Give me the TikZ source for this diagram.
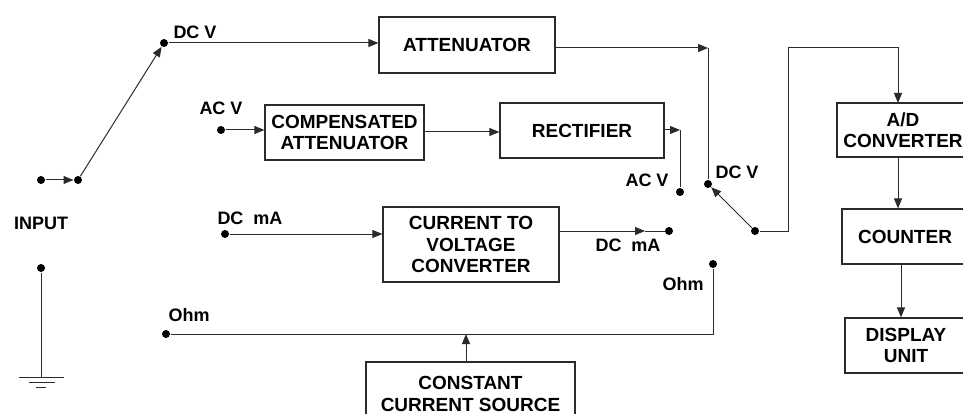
\documentclass[tikz,border=0pt]{standalone}
\usepackage{fontspec}
\setmainfont{Liberation Sans}
\usetikzlibrary{arrows.meta,positioning,calc}
\definecolor{ink}{HTML}{2B2B2B}

\begin{document}
\begin{tikzpicture}[x=1pt,y=-1pt,
  line width=1pt,draw=ink,
  dot/.style={circle,fill=black,inner sep=0pt,minimum size=8pt},
  blk/.style={draw=ink,line width=1.2pt,align=center,inner sep=0pt,
    font=\fontsize{19}{21.5}\selectfont\bfseries},
  lbl/.style={font=\fontsize{18}{20}\selectfont\bfseries},
  arr/.style={-{Triangle[length=10pt,width=8pt]}}]
\useasboundingbox (0,0) rectangle (963,414);
\clip (0,0) rectangle (963,414);
% blocks
\node[blk,minimum width=176pt,minimum height=56pt] (att) at (467,45) {ATTENUATOR};
\node[blk,minimum width=159pt,minimum height=55pt] (comp) at (344.5,132.5) {COMPENSATED\\ATTENUATOR};
\node[blk,minimum width=164pt,minimum height=55pt] (rect) at (582,130.5) {RECTIFIER};
\node[blk,minimum width=176pt,minimum height=75pt] (ctv) at (471,244.5) {CURRENT TO\\VOLTAGE\\CONVERTER};
\node[blk,minimum width=209pt,minimum height=64pt] (ccs) at (470.5,394) {CONSTANT\\CURRENT SOURCE};
\node[blk,minimum width=132pt,minimum height=54pt] (adc) at (903,130) {A/D\\CONVERTER};
\node[blk,minimum width=126pt,minimum height=55pt] (cnt) at (905,236.5) {COUNTER};
\node[blk,minimum width=122pt,minimum height=55pt] (disp) at (906,345.5) {DISPLAY\\UNIT};
% terminals
\node[dot] (in1) at (41,180) {};
\node[dot] (in2) at (78,180) {};
\node[dot] (gnd) at (41,268) {};
\node[dot] (dcv1) at (164,43) {};
\node[dot] (acv1) at (221,130) {};
\node[dot] (dcma1) at (225,234) {};
\node[dot] (ohm1) at (166,334) {};
\node[dot] (acv2) at (680,192) {};
\node[dot] (dcv2) at (708,184) {};
\node[dot] (dcma2) at (669,231) {};
\node[dot] (ohm2) at (713,264) {};
\node[dot] (sw) at (755,231) {};
% labels
\node[lbl] (tin) at (41,223) {INPUT};
\node[lbl] (tdcv1) at (195,32) {DC V};
\node[lbl] (tacv1) at (221,108) {AC V};
\node[lbl] (tdcma1) at (250,218) {DC\ \ mA};
\node[lbl] (tohm1) at (189,315) {Ohm};
\node[lbl] (tacv2) at (647,180) {AC V};
\node[lbl] (tdcv2) at (737,172) {DC V};
\node[lbl] (tdcma2) at (628,245) {DC\ \ mA};
\node[lbl] (tohm2) at (683,284) {Ohm};
% bends
\coordinate (attk) at (708,48);
\coordinate (reck) at (680,130);
\coordinate (ctvk) at (645,231);
\coordinate (ccsk) at (466,334);
\coordinate (swk) at (788,48);
\coordinate (adck) at (898,103);
\coordinate (cntk) at (901,264);
\coordinate (gndk) at (41,377);
% connectors
\draw[arr] (in1) -- (in2);
\draw[arr] (in2) -- (dcv1);
\draw[arr] (dcv1) -- (dcv1 -| att.west);
\draw[arr] (att.east |- attk) -- (attk);
\draw (attk) -- (dcv2);
\draw[arr] (acv1) -- (acv1 -| comp.west);
\draw[arr] (comp.east |- 0,132) -- (rect.west |- 0,132);
\draw[arr] (rect.east |- reck) -- (reck);
\draw (reck) -- (acv2);
\draw[arr] (dcma1) -- (dcma1 -| ctv.west);
\draw[arr] (ctv.east |- ctvk) -- (ctvk);
\draw (ctvk) -- (dcma2);
\draw (ohm2) |- (ohm1);
\draw[arr] (ccs.north -| ccsk) -- (ccsk);
\draw[arr] (sw) -- (dcv2);
\draw[arr] (sw) -| (swk) -| (adck);
\draw[arr] (adck |- adc.south) -- (adck |- cnt.north);
\draw[arr] (cntk |- cnt.south) -- (cntk |- disp.north);
% ground
\draw (gnd) -- (gndk);
\draw (19,377) -- (64,377);
\draw (29,382) -- (55,382);
\draw (36,387) -- (46,387);
\end{tikzpicture}
\end{document}
